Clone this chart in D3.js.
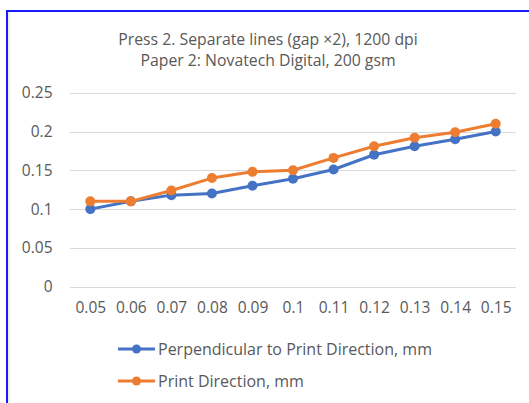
<!DOCTYPE html>
<html>
<head>
<meta charset="utf-8">
<script src="https://cdn.jsdelivr.net/npm/d3@7"></script>
<style>
  html, body { margin: 0; padding: 0; background: #fff; }
  svg { display: block; }
  text { font-family: "Open Sans", sans-serif; fill: #595959; }
</style>
</head>
<body>
<svg id="chart" width="529" height="403"></svg>
<script>
// Gap width (mm) on the x axis
const categories = ["0.05", "0.06", "0.07", "0.08", "0.09", "0.1", "0.11", "0.12", "0.13", "0.14", "0.15"];
// Measured line width, mm
const perpendicular = [0.100, 0.110, 0.118, 0.120, 0.130, 0.139, 0.151, 0.170, 0.181, 0.190, 0.200];
const printDirection = [0.110, 0.110, 0.124, 0.140, 0.148, 0.150, 0.166, 0.181, 0.192, 0.199, 0.210];
const yTicks = [0, 0.05, 0.1, 0.15, 0.2, 0.25];
const titleLines = ["Press 2. Separate lines (gap \u00d72), 1200 dpi", "Paper 2: Novatech Digital, 200 gsm"];

const series = [
  { name: "Perpendicular to Print Direction, mm", values: perpendicular, color: "#4472c4" },
  { name: "Print Direction, mm", values: printDirection, color: "#ed7d31" }
];

const svg = d3.select("#chart");
const W = 529, H = 403;

// chart frame
svg.append("rect").attr("x", 7).attr("y", 11).attr("width", W + 10).attr("height", H + 10)
  .attr("fill", "#fff").attr("stroke", "#1a1aff").attr("stroke-width", 2);
svg.append("line").attr("x1", 9).attr("x2", 9).attr("y1", 12).attr("y2", H)
  .attr("stroke", "#eeeeee").attr("stroke-width", 2);

// title
svg.append("g").selectAll("text").data(titleLines).join("text")
  .attr("x", 268).attr("y", (d, i) => 45 + i * 21)
  .attr("text-anchor", "middle").attr("font-size", 15.8).text(d => d);

const x = d3.scalePoint().domain(categories).range([90.3, 495.7]);
const y = d3.scaleLinear().domain([0, 0.25]).range([286.7, 92.7]);

// gridlines
svg.append("g").selectAll("line").data(yTicks).join("line")
  .attr("x1", 70).attr("x2", 516)
  .attr("y1", d => Math.round(y(d)) + 0.5).attr("y2", d => Math.round(y(d)) + 0.5)
  .attr("stroke", "#d9d9d9").attr("stroke-width", 1);

// y axis labels
const yAxis = d3.axisLeft(y).tickValues(yTicks).tickSize(0).tickPadding(0)
  .tickFormat(d => d3.format("")(+d.toFixed(2)));
const gy = svg.append("g").attr("transform", "translate(52.5,0)").call(yAxis);
gy.select(".domain").remove();
gy.selectAll("text").attr("font-size", 15.5).attr("fill", "#595959")
  .style("font-family", "'Open Sans', sans-serif");

// x axis labels
const xAxis = d3.axisBottom(x).tickSize(0).tickPadding(0);
const gx = svg.append("g").attr("transform", "translate(0,302)").call(xAxis);
gx.select(".domain").remove();
gx.selectAll("text").attr("font-size", 15.5).attr("fill", "#595959")
  .style("font-family", "'Open Sans', sans-serif");

// series lines + markers
const line = d3.line().x((d, i) => x(categories[i])).y(d => y(d));
series.forEach(s => {
  const g = svg.append("g");
  g.append("path").datum(s.values).attr("d", line)
    .attr("fill", "none").attr("stroke", s.color).attr("stroke-width", 3)
    .attr("stroke-linejoin", "round");
  g.selectAll("circle").data(s.values).join("circle")
    .attr("cx", (d, i) => x(categories[i])).attr("cy", d => y(d)).attr("r", 5)
    .attr("fill", s.color);
});

// legend
const lg = svg.append("g").selectAll("g").data(series).join("g")
  .attr("transform", (d, i) => `translate(118,${349 + i * 32})`);
lg.append("line").attr("x1", 0).attr("x2", 37).attr("y1", 0).attr("y2", 0)
  .attr("stroke", d => d.color).attr("stroke-width", 3);
lg.append("circle").attr("cx", 18.5).attr("cy", 0).attr("r", 4.5).attr("fill", d => d.color);
lg.append("text").attr("x", 40).attr("y", 0).attr("dy", "0.35em")
  .attr("font-size", 16).text(d => d.name);
</script>
</body>
</html>
